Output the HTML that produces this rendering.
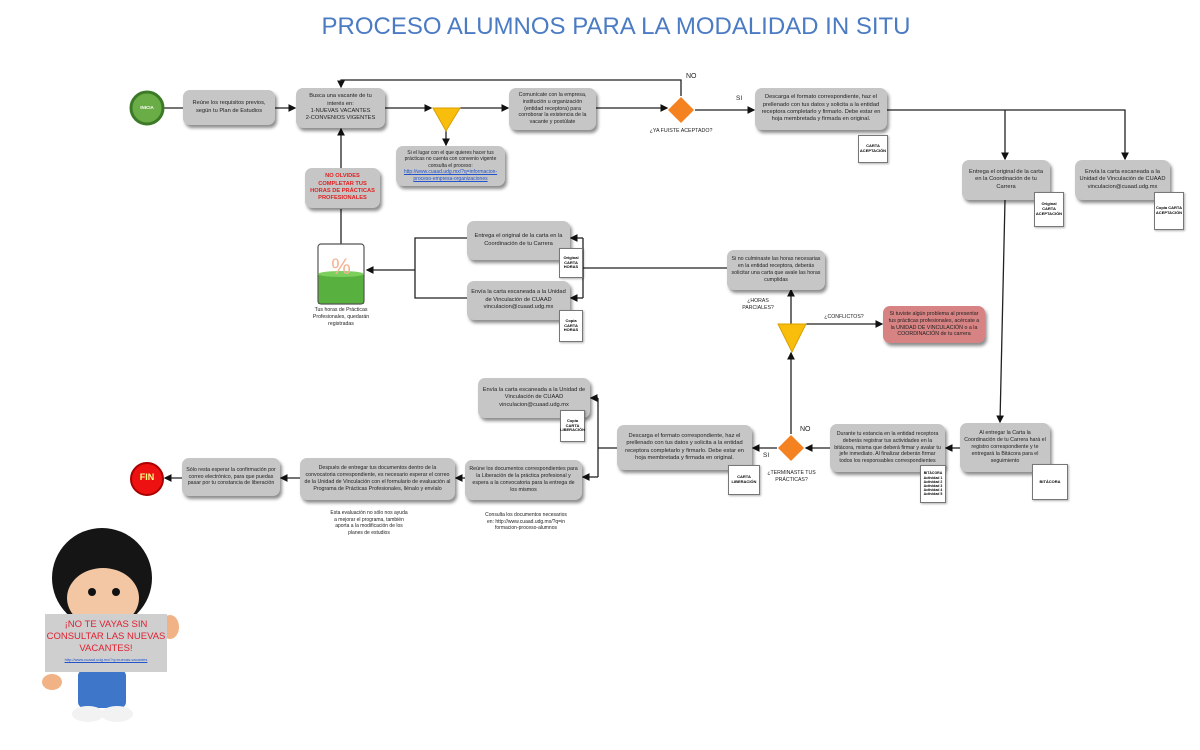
<!DOCTYPE html>
<html><head><meta charset="utf-8"><style>
body{margin:0;width:1200px;height:750px;background:#fff;position:relative;overflow:hidden;font-family:"Liberation Sans",sans-serif;}
.b{position:absolute;background:#c6c6c6;border-radius:7px;box-shadow:2px 3px 3px rgba(0,0,0,.45);display:flex;align-items:center;justify-content:center;text-align:center;font-size:5.7px;line-height:1.3;color:#222;box-sizing:border-box;padding:2px 4px;}
.t{position:absolute;font-size:5.7px;line-height:1.3;color:#222;text-align:center;}
.d{position:absolute;background:#fff;border:1px solid #777;box-shadow:1px 1px 2px rgba(0,0,0,.3);font-size:4px;font-weight:bold;display:flex;align-items:center;justify-content:center;text-align:center;line-height:1.2;box-sizing:border-box;}
svg{position:absolute;left:0;top:0;}
a{color:#2255cc;text-decoration:underline;}
</style></head><body>
<div style="position:absolute;left:0;width:1232px;top:13px;text-align:center;font-size:24px;color:#4b7bc3;">PROCESO ALUMNOS PARA LA MODALIDAD IN SITU</div>

<svg width="1200" height="750">
<defs><marker id="a" markerWidth="6" markerHeight="6" refX="5" refY="3" orient="auto"><path d="M0,0 L6,3 L0,6z" fill="#111"/></marker></defs>
<g stroke="#222" stroke-width="1.3" fill="none">
<line x1="164" y1="108" x2="183" y2="108"/>
<line x1="275" y1="108" x2="295" y2="108" marker-end="url(#a)"/>
<line x1="385" y1="108" x2="431" y2="108" marker-end="url(#a)"/>
<line x1="460" y1="108" x2="508" y2="108" marker-end="url(#a)"/>
<line x1="446" y1="130" x2="446" y2="145" marker-end="url(#a)"/>
<line x1="596" y1="108" x2="667" y2="108" marker-end="url(#a)"/>
<polyline points="681,96 681,80 341,80 341,87" marker-end="url(#a)"/>
<line x1="695" y1="110" x2="754" y2="110" marker-end="url(#a)"/>
<polyline points="887,110 1125,110 1125,159" marker-end="url(#a)"/>
<line x1="1005" y1="110" x2="1005" y2="159" marker-end="url(#a)"/>
<line x1="1005" y1="200" x2="1000" y2="422" marker-end="url(#a)"/>
<line x1="960" y1="448" x2="946" y2="448" marker-end="url(#a)"/>
<line x1="830" y1="448" x2="806" y2="448" marker-end="url(#a)"/>
<line x1="777" y1="448" x2="753" y2="448" marker-end="url(#a)"/>
<line x1="791" y1="434" x2="791" y2="353" marker-end="url(#a)"/>
<line x1="791" y1="324" x2="791" y2="290" marker-end="url(#a)"/>
<line x1="806" y1="324" x2="882" y2="324" marker-end="url(#a)"/>
<polyline points="727,268 583,268"/>
<polyline points="583,238 583,298"/>
<line x1="583" y1="238" x2="571" y2="238" marker-end="url(#a)"/>
<line x1="583" y1="298" x2="571" y2="298" marker-end="url(#a)"/>
<polyline points="467,238 415,238 415,298 467,298"/>
<line x1="415" y1="270" x2="367" y2="270" marker-end="url(#a)"/>
<line x1="341" y1="244" x2="341" y2="209"/>
<line x1="341" y1="168" x2="341" y2="129" marker-end="url(#a)"/>
<line x1="617" y1="448" x2="598" y2="448"/>
<polyline points="598,398 598,477"/>
<line x1="598" y1="398" x2="591" y2="398" marker-end="url(#a)"/>
<line x1="598" y1="477" x2="583" y2="477" marker-end="url(#a)"/>
<line x1="465" y1="478" x2="456" y2="478" marker-end="url(#a)"/>
<line x1="300" y1="478" x2="281" y2="478" marker-end="url(#a)"/>
<line x1="182" y1="478" x2="165" y2="478" marker-end="url(#a)"/>
</g>
<circle cx="147" cy="108" r="16" fill="#6aac45" stroke="#3c7a28" stroke-width="3"/>
<circle cx="147" cy="479" r="16" fill="#e11" stroke="#a00" stroke-width="2"/>
<polygon points="433,108 460,108 446,131" fill="#f9bd0c" stroke="#d9a000"/>
<polygon points="778,324 806,324 792,352" fill="#f9bd0c" stroke="#d9a000"/>
<polygon points="681,97 694,110 681,123 668,110" fill="#f58220"/>
<polygon points="791,435 804,448 791,461 778,448" fill="#f58220"/>
<rect x="318" y="274" width="46" height="30" fill="#58b13e"/>
<rect x="318" y="244" width="46" height="60" fill="none" stroke="#555" stroke-width="1.2" rx="3"/>
<ellipse cx="341" cy="274" rx="23" ry="3" fill="#7ccf5d"/>
<text x="341" y="274" font-size="22" fill="#f4b395" text-anchor="middle" font-family="Liberation Sans">%</text>
<circle cx="102" cy="578" r="50" fill="#151515"/>
<ellipse cx="103" cy="598" rx="36" ry="30" fill="#f3c7a4"/>
<circle cx="92" cy="592" r="4" fill="#111"/><circle cx="116" cy="592" r="4" fill="#111"/>
<rect x="78" y="670" width="48" height="38" rx="6" fill="#3e76c9"/>
<ellipse cx="88" cy="714" rx="16" ry="8" fill="#f2f2f2"/><ellipse cx="117" cy="714" rx="16" ry="8" fill="#f2f2f2"/>
<ellipse cx="170" cy="627" rx="9" ry="12" fill="#f1b286"/>
<ellipse cx="52" cy="682" rx="10" ry="8" fill="#f1b286"/>
</svg>
<div class="t" style="left:133px;top:105px;width:28px;font-size:4.5px;font-weight:bold;color:#fff;">INICIA</div>
<div class="t" style="left:131px;top:472px;width:32px;font-size:9px;font-weight:bold;color:#ff8;">FIN</div>

<div class="b" style="left:183px;top:90px;width:92px;height:35px;"><span>Reúne los requisitos previos, según tu Plan de Estudios</span></div>
<div class="b" style="left:296px;top:88px;width:89px;height:40px;"><span>Busca una vacante de tu interés en:<br>1-NUEVAS VACANTES<br>2-CONVENIOS VIGENTES</span></div>
<div class="b" style="left:396px;top:146px;width:109px;height:40px;font-size:5px;"><span>Si el lugar con el que quieres hacer tus prácticas no cuenta con convenio vigente consulta el proceso: <a>http://www.cuaad.udg.mx/?q=informacion-proceso-empresa-organizaciones</a></span></div>
<div class="b" style="left:305px;top:168px;width:75px;height:40px;color:#e02020;font-weight:bold;"><span>NO OLVIDES COMPLETAR TUS HORAS DE PRÁCTICAS PROFESIONALES</span></div>
<div class="b" style="left:509px;top:88px;width:87px;height:42px;font-size:5.3px;"><span>Comunícate con la empresa, institución u organización (entidad receptora) para corroborar la existencia de la vacante y postúlate</span></div>
<div class="t" style="left:686px;top:72px;font-size:7px;">NO</div>
<div class="t" style="left:645px;top:128px;width:72px;font-size:5.3px;">¿YA FUISTE ACEPTADO?</div>
<div class="t" style="left:736px;top:95px;font-size:6.5px;">SI</div>
<div class="b" style="left:755px;top:88px;width:132px;height:42px;"><span>Descarga el formato correspondiente, haz el prellenado con tus datos y solicita a la entidad receptora completarlo y firmarlo. Debe estar en hoja membretada y firmada en original.</span></div>
<div class="d" style="left:858px;top:135px;width:30px;height:28px;">CARTA ACEPTACIÓN</div>
<div class="b" style="left:962px;top:160px;width:88px;height:40px;"><span>Entrega el original de la carta en la Coordinación de tu Carrera</span></div>
<div class="d" style="left:1034px;top:192px;width:30px;height:35px;">Original CARTA ACEPTACIÓN</div>
<div class="b" style="left:1075px;top:160px;width:95px;height:40px;"><span>Envía la carta escaneada a la Unidad de Vinculación de CUAAD vinculacion@cuaad.udg.mx</span></div>
<div class="d" style="left:1154px;top:192px;width:30px;height:38px;">Copia CARTA ACEPTACIÓN</div>

<div class="b" style="left:467px;top:221px;width:103px;height:39px;"><span>Entrega el original de la carta en la Coordinación de tu Carrera</span></div>
<div class="d" style="left:559px;top:248px;width:24px;height:30px;">Original CARTA HORAS</div>
<div class="b" style="left:467px;top:281px;width:103px;height:39px;"><span>Envía la carta escaneada a la Unidad de Vinculación de CUAAD vinculacion@cuaad.udg.mx</span></div>
<div class="d" style="left:559px;top:310px;width:24px;height:32px;">Copia CARTA HORAS</div>
<div class="t" style="left:303px;top:307px;width:76px;font-size:5.2px;">Tus horas de Prácticas Profesionales, quedarán registradas</div>
<div class="b" style="left:727px;top:250px;width:98px;height:40px;font-size:5.3px;"><span>Si no culminaste las horas necesarias en la entidad receptora, deberás solicitar una carta que avale las horas cumplidas</span></div>
<div class="t" style="left:740px;top:298px;width:36px;font-size:5.2px;">¿HORAS PARCIALES?</div>
<div class="t" style="left:822px;top:314px;width:44px;font-size:5.2px;">¿CONFLICTOS?</div>
<div class="b" style="left:883px;top:306px;width:102px;height:37px;background:#d88383;font-size:5.3px;"><span>Si tuviste algún problema al presentar tus prácticas profesionales, acércate a la UNIDAD DE VINCULACIÓN o a la COORDINACIÓN de tu carrera</span></div>

<div class="b" style="left:478px;top:378px;width:112px;height:40px;"><span>Envía la carta escaneada a la Unidad de Vinculación de CUAAD vinculacion@cuaad.udg.mx</span></div>
<div class="d" style="left:560px;top:410px;width:25px;height:32px;">Copia CARTA LIBERACIÓN</div>
<div class="b" style="left:617px;top:425px;width:135px;height:45px;"><span>Descarga el formato correspondiente, haz el prellenado con tus datos y solicita a la entidad receptora completarlo y firmarlo. Debe estar en hoja membretada y firmada en original.</span></div>
<div class="d" style="left:728px;top:465px;width:32px;height:30px;">CARTA LIBERACIÓN</div>
<div class="t" style="left:800px;top:425px;font-size:7px;">NO</div>
<div class="t" style="left:763px;top:452px;font-size:6.5px;">SI</div>
<div class="t" style="left:764px;top:470px;width:55px;font-size:5.2px;">¿TERMINASTE TUS PRÁCTICAS?</div>
<div class="b" style="left:830px;top:424px;width:115px;height:48px;font-size:5.3px;"><span>Durante tu estancia en la entidad receptora deberás registrar tus actividades en la bitácora, misma que deberá firmar y avalar tu jefe inmediato. Al finalizar deberán firmar todos los responsables correspondientes</span></div>
<div class="d" style="left:920px;top:465px;width:26px;height:38px;font-size:3.5px;">BITÁCORA Actividad 1 Actividad 2 Actividad 3 Actividad 4 Actividad 5</div>
<div class="b" style="left:960px;top:423px;width:90px;height:49px;font-size:5.3px;"><span>Al entregar la Carta la Coordinación de tu Carrera hará el registro correspondiente y te entregará la Bitácora para el seguimiento</span></div>
<div class="d" style="left:1032px;top:464px;width:36px;height:36px;">BITÁCORA</div>

<div class="b" style="left:465px;top:460px;width:117px;height:40px;font-size:5.3px;"><span>Reúne los documentos correspondientes para la Liberación de la práctica profesional y espera a la convocatoria para la entrega de los mismos</span></div>
<div class="b" style="left:300px;top:458px;width:155px;height:42px;font-size:5.3px;"><span>Después de entregar tus documentos dentro de la convocatoria correspondiente, es necesario esperar el correo de la Unidad de Vinculación con el formulario de evaluación al Programa de Prácticas Profesionales, llénalo y envíalo</span></div>
<div class="b" style="left:182px;top:458px;width:98px;height:38px;font-size:5.3px;"><span>Sólo resta esperar la confirmación por correo electrónico, para que puedas pasar por tu constancia de liberación</span></div>
<div class="t" style="left:330px;top:510px;width:78px;font-size:5px;">Esta evaluación no sólo nos ayuda a mejorar el programa, también aporta a la modificación de los planes de estudios</div>
<div class="t" style="left:484px;top:512px;width:84px;font-size:5px;">Consulta los documentos necesarios en: http://www.cuaad.udg.mx/?q=in formacion-proceso-alumnos</div>

<div style="position:absolute;left:45px;top:614px;width:122px;height:58px;background:#cfcfcf;text-align:center;color:#e02030;font-size:9.5px;line-height:1.25;padding-top:5px;box-sizing:border-box;">¡NO TE VAYAS SIN CONSULTAR LAS NUEVAS VACANTES!<div style="font-size:4px;color:#2255cc;text-decoration:underline;margin-top:2px;">http://www.cuaad.udg.mx/?q=nuevas-vacantes</div></div>
</body></html>
